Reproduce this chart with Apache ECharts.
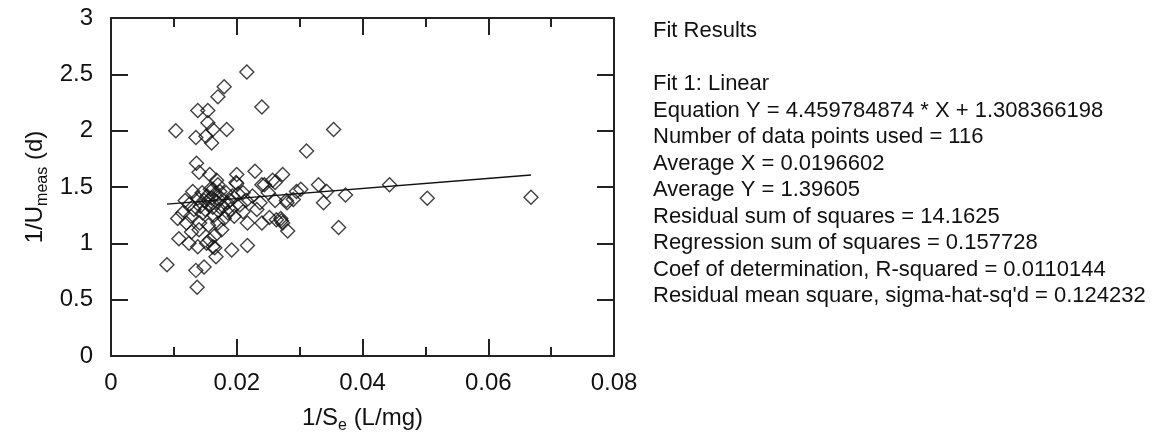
<!DOCTYPE html>
<html>
<head>
<meta charset="utf-8">
<script src="https://cdn.jsdelivr.net/npm/echarts@6/dist/echarts.min.js"></script>
<style>html,body{margin:0;padding:0;background:#fff}#c{width:1168px;height:440px}</style>
</head>
<body>
<div id="c"></div>
<script>
// Scatter points: x = 1/Se (L/mg), y = 1/Umeas (d)
const pointsX = [
  0.0216,0.0180,0.0170,0.0138,0.0154,0.0240,0.0154,0.0103,0.0162,0.0184,
  0.0135,0.0151,0.0160,0.0354,0.0311,0.0136,0.0140,0.0157,0.0200,0.0229,
  0.0257,0.0273,0.0240,0.0130,0.0168,0.0170,0.0162,0.0200,0.0330,0.0443,
  0.0503,0.0668,0.0373,0.0338,0.0362,0.0343,0.0302,0.0295,0.0290,0.0280,
  0.0281,0.0273,0.0270,0.0089,0.0137,0.0135,0.0148,0.0192,0.0217,0.0167,
  0.0165,0.0162,0.0108,0.0124,0.0138,0.0152,0.0106,0.0120,0.0128,0.0114,
  0.0127,0.0141,0.0146,0.0176,0.0165,0.0157,0.0217,0.0240,0.0252,0.0271,
  0.0263,0.0210,0.0237,0.0261,0.0279,0.0186,0.0205,0.0189,0.0202,0.0244,
  0.0261,0.0199,0.0125,0.0132,0.0138,0.0142,0.0145,0.0148,0.0150,0.0153,
  0.0155,0.0158,0.0160,0.0162,0.0164,0.0166,0.0168,0.0171,0.0173,0.0175,
  0.0178,0.0180,0.0183,0.0185,0.0190,0.0193,0.0196,0.0210,0.0215,0.0225,
  0.0232,0.0140,0.0155,0.0118,0.0170,0.0250
];
const pointsY = [
  2.52,2.39,2.30,2.18,2.18,2.21,2.07,2.00,2.01,2.01,
  1.94,1.95,1.89,2.01,1.82,1.71,1.63,1.61,1.61,1.64,
  1.56,1.61,1.52,1.46,1.56,1.52,1.48,1.53,1.52,1.52,
  1.40,1.41,1.43,1.36,1.14,1.46,1.48,1.46,1.39,1.36,
  1.11,1.18,1.22,0.81,0.61,0.76,0.79,0.94,0.98,0.88,
  0.96,0.97,1.04,1.00,0.97,1.00,1.22,1.18,1.10,1.27,
  1.24,1.18,1.27,1.12,1.07,1.03,1.18,1.18,1.23,1.20,
  1.21,1.28,1.36,1.38,1.38,1.27,1.34,1.38,1.44,1.52,
  1.54,1.54,1.35,1.30,1.40,1.33,1.45,1.38,1.30,1.42,
  1.35,1.48,1.40,1.32,1.25,1.44,1.37,1.29,1.46,1.40,
  1.33,1.22,1.45,1.36,1.30,1.42,1.24,1.45,1.38,1.42,
  1.30,1.12,1.16,1.38,1.18,1.45
];
// Fit line end points (as drawn)
const fitX = [0.0089, 0.0668];
const fitY = [1.348, 1.606];
// Tick labels
const xTickLabels = ['0', '0.02', '0.04', '0.06', '0.08'];
const yTickLabels = ['0', '0.5', '1', '1.5', '2', '2.5', '3'];
// Fit results text
const fitLines = [
  'Fit Results',
  '',
  'Fit 1: Linear',
  'Equation Y = 4.459784874 * X + 1.308366198',
  'Number of data points used = 116',
  'Average X = 0.0196602',
  'Average Y = 1.39605',
  'Residual sum of squares = 14.1625',
  'Regression sum of squares = 0.157728',
  'Coef of determination, R-squared = 0.0110144',
  "Residual mean square, sigma-hat-sq'd = 0.124232"
];

const FONT = 'Liberation Sans, Arial, sans-serif';
const AX = '#222';
const scatterData = pointsX.map((x, i) => [x, pointsY[i]]);
const fitData = fitX.map((x, i) => [x, fitY[i]]);

function xAxisCfg(pos, labels) {
  return {
    type: 'value', min: 0, max: 0.08, interval: 0.02, position: pos,
    axisLine: { show: true, onZero: false, lineStyle: { color: AX, width: 2 } },
    axisTick: { show: true, inside: true, length: 17, lineStyle: { color: AX, width: 2 } },
    minorTick: { show: true, splitNumber: 2, length: 9, lineStyle: { color: AX, width: 2 } },
    splitLine: { show: false }, minorSplitLine: { show: false },
    axisLabel: { show: labels, fontSize: 24, color: '#111', fontFamily: FONT, margin: 15,
      formatter: (v, i) => xTickLabels[i] },
  };
}
function yAxisCfg(pos, labels) {
  return {
    type: 'value', min: 0, max: 3, interval: 0.5, position: pos,
    axisLine: { show: true, onZero: false, lineStyle: { color: AX, width: 2 } },
    axisTick: { show: true, inside: true, length: 17, lineStyle: { color: AX, width: 2 } },
    splitLine: { show: false },
    axisLabel: { show: labels, fontSize: 24, color: '#111', fontFamily: FONT, margin: 18,
      formatter: (v, i) => yTickLabels[i] },
  };
}

const xBottom = xAxisCfg('bottom', true);
xBottom.name = '1/S{sub|e} (L/mg)';
xBottom.nameLocation = 'middle';
xBottom.nameGap = 46;
xBottom.nameTextStyle = { fontSize: 24, color: '#111', fontFamily: FONT, lineHeight: 32,
  rich: { sub: { fontSize: 16, fontFamily: FONT, color: '#111', verticalAlign: 'bottom', lineHeight: 16 } } };

const yLeft = yAxisCfg('left', true);
yLeft.name = '1/U{sub|meas} (d)';
yLeft.nameLocation = 'middle';
yLeft.nameGap = 60;
yLeft.nameRotate = 90;
yLeft.nameTextStyle = { fontSize: 24, color: '#111', fontFamily: FONT, lineHeight: 32,
  rich: { sub: { fontSize: 16, fontFamily: FONT, color: '#111', verticalAlign: 'bottom', lineHeight: 16 } } };

const chart = echarts.init(document.getElementById('c'), null, { renderer: 'canvas' });
chart.setOption({
  animation: false,
  backgroundColor: '#fff',
  grid: { left: 111, right: 554, top: 18, bottom: 84, containLabel: false, outerBoundsMode: 'none' },
  xAxis: [xBottom, xAxisCfg('top', false)],
  yAxis: [yLeft, yAxisCfg('right', false)],
  series: [
    {
      type: 'scatter', xAxisIndex: 0, yAxisIndex: 0,
      data: scatterData, symbol: 'diamond', symbolSize: 14,
      itemStyle: { color: 'rgba(0,0,0,0)', borderColor: '#111', borderWidth: 1.4 },
      emphasis: { disabled: true }
    },
    {
      type: 'line', xAxisIndex: 0, yAxisIndex: 0,
      data: fitData, symbol: 'none',
      lineStyle: { color: '#111', width: 1.5 },
      emphasis: { disabled: true }
    }
  ],
  graphic: [{
    type: 'text', left: 653, top: 18,
    style: { text: fitLines.join('\n'), font: '22px ' + FONT, fill: '#111', lineHeight: 26.5 }
  }]
});
</script>
</body>
</html>
